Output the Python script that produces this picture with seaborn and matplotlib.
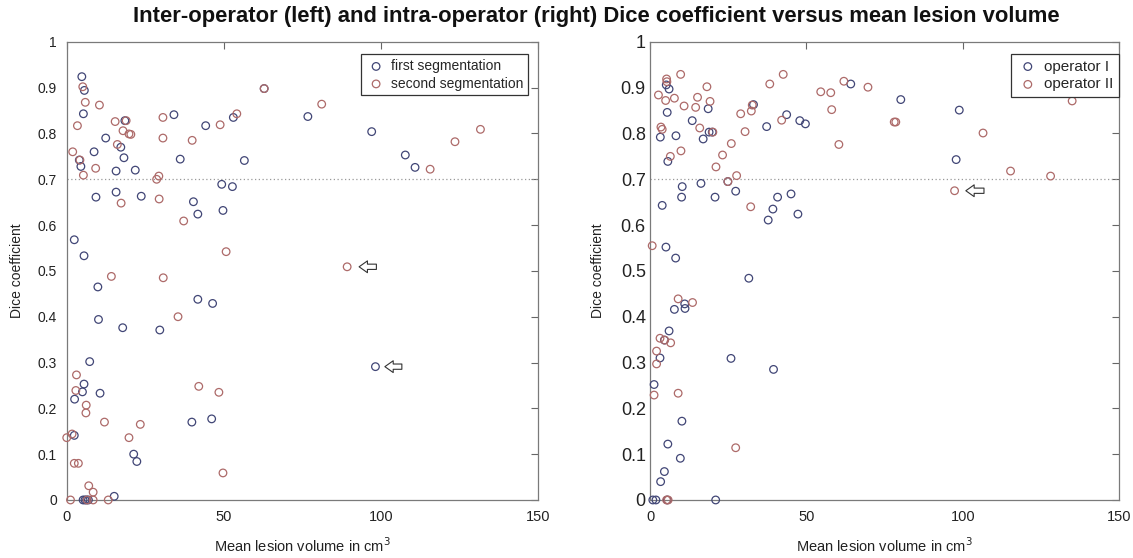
import matplotlib
matplotlib.use("Agg")
import matplotlib.pyplot as plt
import seaborn as sns
import pandas as pd

# inter-operator (left panel): x = mean lesion volume (cm3), y = Dice
first_x = [4.8, 5.6, 5.3, 18.5, 12.4, 8.7, 17.2, 18.2, 4.0, 4.5, 15.7, 21.8, 9.3, 15.7,
           23.7, 34.1, 36.1, 44.2, 53.0, 56.5, 40.3, 41.7, 49.3, 52.7, 49.7, 62.8, 76.7,
           97.0, 107.7, 110.8, 2.4, 5.5, 9.9, 41.7, 46.4, 10.1, 17.8, 29.6, 7.3, 5.5, 5.0,
           10.6, 2.5, 39.8, 46.1, 2.4, 21.3, 22.3, 15.1, 5.2, 5.8, 6.3, 6.9, 98.2]
first_y = [0.924, 0.894, 0.843, 0.828, 0.79, 0.76, 0.77, 0.747, 0.742, 0.728, 0.718, 0.72,
           0.661, 0.672, 0.663, 0.841, 0.744, 0.817, 0.835, 0.741, 0.651, 0.624, 0.689,
           0.684, 0.632, 0.898, 0.837, 0.804, 0.753, 0.726, 0.568, 0.533, 0.465, 0.438,
           0.429, 0.394, 0.376, 0.371, 0.302, 0.253, 0.236, 0.233, 0.22, 0.17, 0.177,
           0.141, 0.1, 0.084, 0.008, 0.0, 0.0, 0.0, 0.0, 0.291]
second_x = [5.1, 5.9, 10.4, 3.4, 15.4, 18.9, 17.9, 19.8, 20.4, 1.9, 16.1, 9.2, 5.3, 4.2,
            17.3, 30.6, 30.6, 29.3, 28.6, 29.4, 39.9, 48.8, 54.1, 37.2, 62.8, 81.1, 115.6,
            123.5, 131.6, 50.7, 14.2, 30.7, 35.4, 3.1, 2.9, 6.2, 6.1, 42.0, 48.4, 12.0,
            23.4, 0.0, 1.7, 2.4, 3.7, 19.8, 49.7, 7.0, 8.4, 1.2, 6.5, 8.4, 13.2, 89.2]
second_y = [0.902, 0.868, 0.862, 0.817, 0.826, 0.828, 0.806, 0.799, 0.798, 0.76, 0.776,
            0.724, 0.709, 0.742, 0.648, 0.835, 0.79, 0.707, 0.7, 0.657, 0.785, 0.819,
            0.843, 0.609, 0.898, 0.864, 0.722, 0.782, 0.809, 0.542, 0.488, 0.485, 0.4,
            0.273, 0.239, 0.207, 0.19, 0.248, 0.235, 0.17, 0.165, 0.136, 0.144, 0.08, 0.08,
            0.136, 0.059, 0.031, 0.017, 0.0, 0.0, 0.0, 0.0, 0.509]

# intra-operator (right panel)
op1_x = [5.2, 6.1, 5.5, 3.3, 8.3, 13.5, 18.6, 17.0, 18.9, 19.9, 33.1, 24.9, 5.7, 3.9, 10.3,
         10.1, 16.3, 20.8, 27.4, 37.3, 43.7, 47.9, 49.7, 40.8, 39.3, 37.8, 45.1, 47.3, 64.2,
         80.2, 98.9, 97.9, 5.1, 8.2, 31.6, 7.8, 11.1, 11.2, 6.1, 4.6, 3.2, 25.9, 39.5, 1.3,
         10.2, 5.7, 9.7, 4.6, 3.4, 0.9, 1.9, 5.5, 21.0]
op1_y = [0.906, 0.897, 0.846, 0.792, 0.795, 0.828, 0.854, 0.788, 0.803, 0.803, 0.863, 0.695,
         0.739, 0.643, 0.684, 0.661, 0.691, 0.661, 0.674, 0.815, 0.841, 0.828, 0.821, 0.661,
         0.635, 0.611, 0.668, 0.624, 0.908, 0.874, 0.851, 0.743, 0.552, 0.528, 0.484, 0.416,
         0.428, 0.418, 0.369, 0.349, 0.31, 0.309, 0.285, 0.252, 0.172, 0.122, 0.091, 0.062,
         0.04, 0.0, 0.0, 0.0, 0.0]
op2_x = [2.7, 5.3, 5.4, 5.0, 7.8, 9.8, 10.9, 3.5, 3.9, 14.6, 15.2, 15.9, 18.2, 19.2, 20.1,
         6.5, 9.9, 21.1, 23.2, 26.0, 29.0, 30.4, 32.4, 32.7, 24.9, 27.7, 32.2, 38.3, 42.6,
         42.1, 54.6, 57.8, 58.1, 60.4, 62.0, 69.7, 78.1, 78.6, 106.5, 115.3, 128.1, 135.0,
         97.4, 0.7, 9.0, 13.6, 3.2, 4.7, 6.6, 2.1, 2.1, 1.3, 9.0, 27.4, 5.3, 5.8]
op2_y = [0.884, 0.919, 0.913, 0.872, 0.877, 0.929, 0.86, 0.814, 0.809, 0.857, 0.879, 0.812,
         0.902, 0.87, 0.803, 0.75, 0.762, 0.727, 0.753, 0.778, 0.843, 0.804, 0.849, 0.862,
         0.695, 0.708, 0.64, 0.908, 0.929, 0.829, 0.891, 0.889, 0.852, 0.776, 0.914, 0.901,
         0.825, 0.825, 0.801, 0.718, 0.707, 0.871, 0.675, 0.555, 0.439, 0.431, 0.353, 0.349,
         0.343, 0.325, 0.297, 0.229, 0.233, 0.114, 0.0, 0.0]

# arrows marking outliers: (tip x, tail x, y)
left_arrows = [(93.0, 98.5, 0.509), (101.2, 106.6, 0.291)]
right_arrows = [(101.0, 106.8, 0.675)]

x_ticks = [0, 50, 100, 150]
y_ticks = [0, 0.1, 0.2, 0.3, 0.4, 0.5, 0.6, 0.7, 0.8, 0.9, 1]
y_tick_labels = ['0', '0.1', '0.2', '0.3', '0.4', '0.5', '0.6', '0.7', '0.8', '0.9', '1']
threshold = 0.7

blue = '#414676'
red = '#ad6a69'

sns.set_style('white')
plt.rcParams['font.family'] = ['Liberation Sans', 'DejaVu Sans']
plt.rcParams['xtick.direction'] = 'in'
plt.rcParams['ytick.direction'] = 'in'

fig = plt.figure(figsize=(11.33, 5.58), dpi=100)
ax1 = fig.add_axes([0.0589, 0.104, 0.4162, 0.821])
ax2 = fig.add_axes([0.5737, 0.104, 0.414, 0.821])

panels = [
    (ax1, first_x, first_y, second_x, second_y, 'first segmentation', 'second segmentation',
     left_arrows, (0.978, 0.973), 10),
    (ax2, op1_x, op1_y, op2_x, op2_y, 'operator I', 'operator II', right_arrows, (0.999, 0.973), 11),
]

for ax, bx, by, rx, ry, blab, rlab, arrows, leg_anchor, leg_size in panels:
    df_b = pd.DataFrame({'x': bx, 'y': by})
    df_r = pd.DataFrame({'x': rx, 'y': ry})
    sns.scatterplot(data=df_b, x='x', y='y', ax=ax, marker='o', s=30, facecolor='none',
                    edgecolor=blue, linewidth=0.9, label=blab, zorder=3, clip_on=False)
    sns.scatterplot(data=df_r, x='x', y='y', ax=ax, marker='o', s=30, facecolor='none',
                    edgecolor=red, linewidth=0.9, label=rlab, zorder=3, clip_on=False)
    ax.axhline(threshold, color='#999999', linestyle=(0, (1, 2)), linewidth=0.9, zorder=1)
    for tip, tail, yv in arrows:
        ax.annotate('', xy=(tip, yv), xytext=(tail, yv),
                    arrowprops=dict(arrowstyle='simple,head_length=0.6,head_width=0.85,tail_width=0.38',
                                    fc='white', ec='#333333', lw=0.8, shrinkA=0, shrinkB=0))
    ax.set_xlim(0, 150)
    ax.set_ylim(0, 1)
    ax.set_xticks(x_ticks)
    ax.set_yticks(y_ticks)
    ax.set_yticklabels(y_tick_labels)
    ax.tick_params(which='both', top=True, right=True, length=5, width=0.8,
                   color='#666666', labelcolor='#222222')
    ax.tick_params(axis='x', labelsize=10.5, pad=7)
    for sp in ax.spines.values():
        sp.set_color('#7a7a7a')
        sp.set_linewidth(0.9)
    ax.set_xlabel('Mean lesion volume in cm$^3$', fontsize=10.5, labelpad=9, color='#222222')
    ax.set_ylabel('Dice coefficient', fontsize=10, color='#222222')
    leg = ax.legend(loc='upper right', bbox_to_anchor=leg_anchor, borderaxespad=0,
                    fontsize=leg_size, frameon=True, fancybox=False,
                    edgecolor='#333333', framealpha=1,
                    handletextpad=0.3, borderpad=0.35, labelspacing=0.25, handlelength=1.5)
    leg.get_frame().set_linewidth(0.9)

ax1.tick_params(axis='y', labelsize=10, pad=7)
ax2.tick_params(axis='y', labelsize=13, pad=3)
ax1.yaxis.set_label_coords(-0.09, 0.5)
ax2.yaxis.set_label_coords(-0.097, 0.5)

fig.suptitle('Inter-operator (left) and intra-operator (right) Dice coefficient versus mean lesion volume',
             fontsize=15.8, fontweight='bold', x=0.526, y=0.99, color='#111111')

fig.savefig('out.png', dpi=100)
